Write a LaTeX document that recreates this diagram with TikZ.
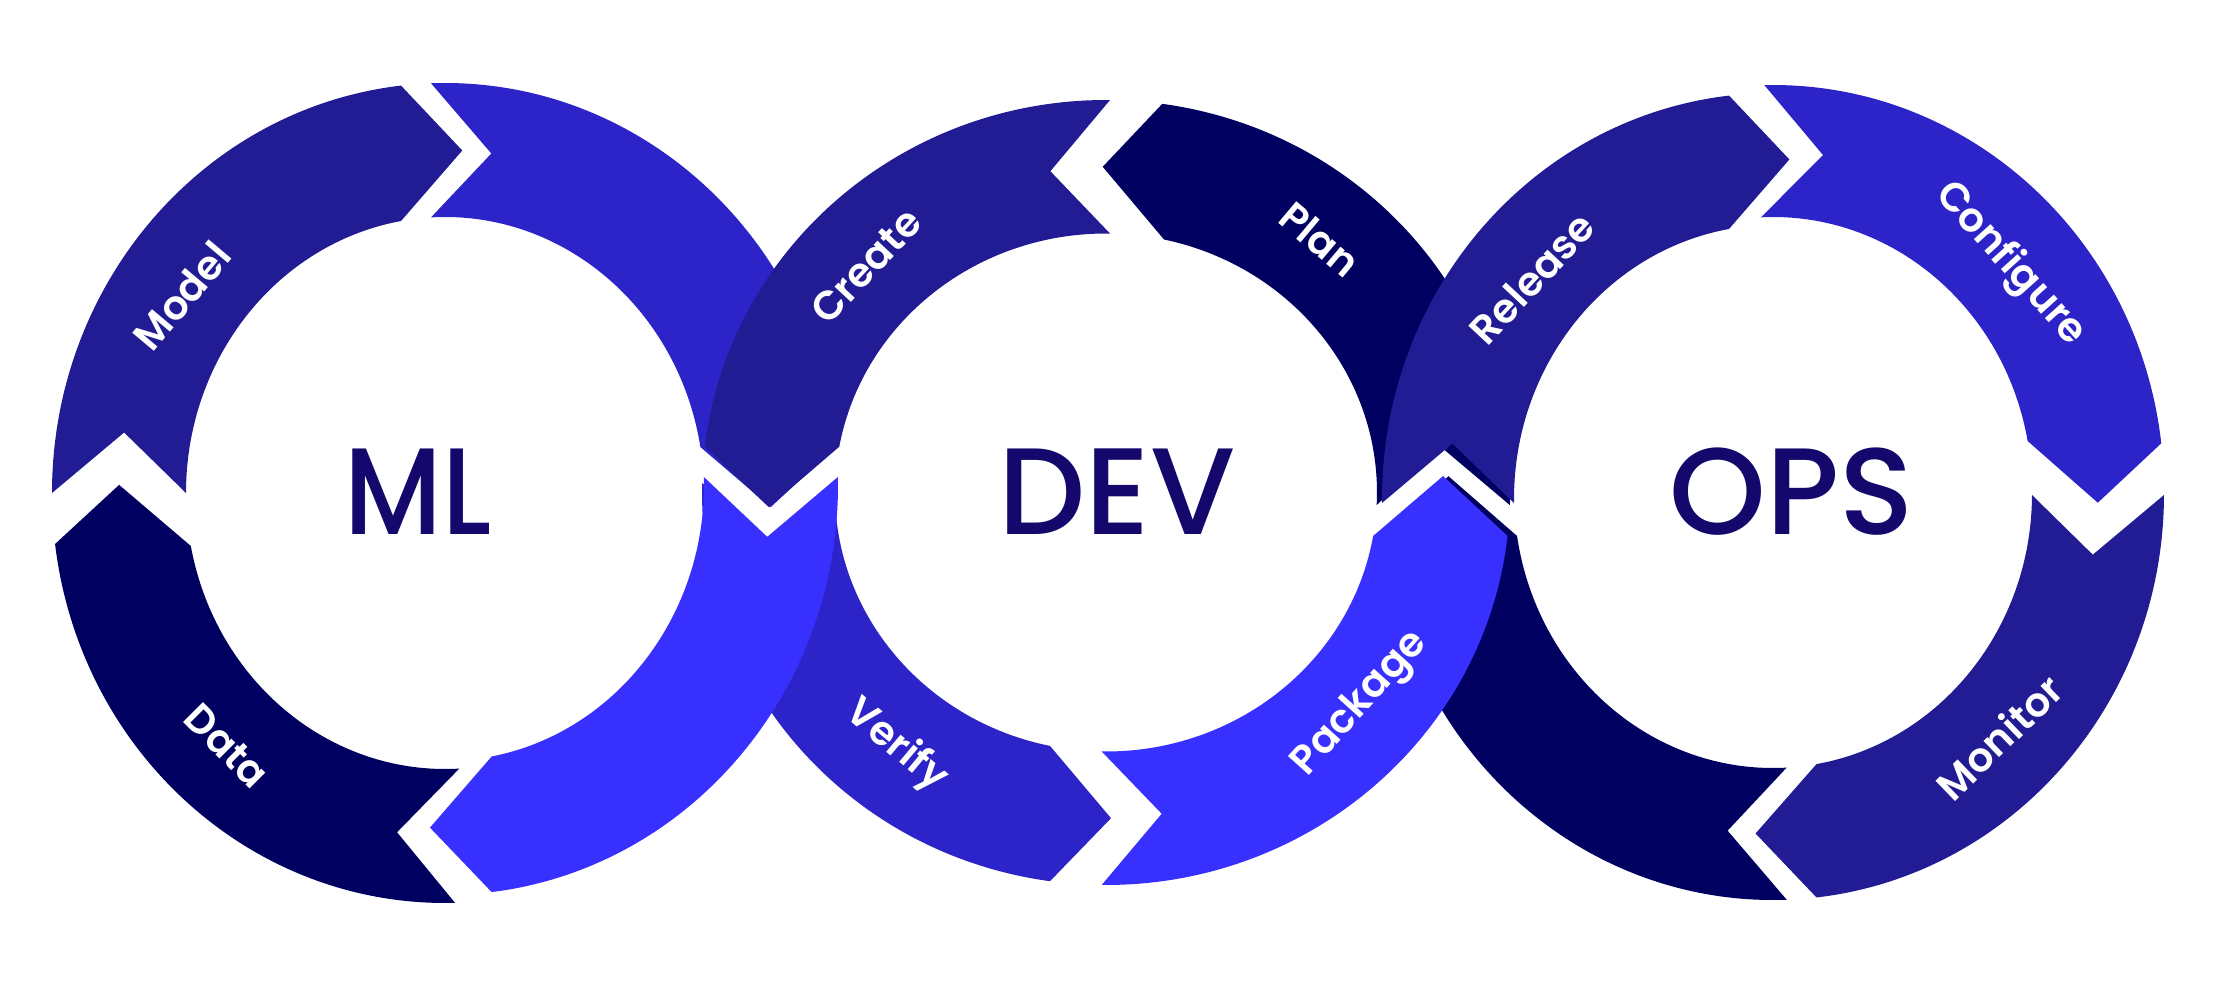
\documentclass[tikz,border=0pt]{standalone}
\usepackage{fontspec}
\IfFontExistsTF{Poppins Medium}{\setmainfont{Poppins Medium}}{\setmainfont{Poppins}}
\IfFontExistsTF{Poppins SemiBold}{\newfontfamily\labelfont{Poppins SemiBold}}{\newfontfamily\labelfont{Poppins}}
\definecolor{ringnavy}{HTML}{000060}
\definecolor{ringindigo}{HTML}{211C94}
\definecolor{ringblue}{HTML}{2C24C8}
\definecolor{ringbright}{HTML}{3830FF}
\definecolor{titlenavy}{HTML}{14086C}

% one arrow piece of a ring: outer start, outer end, head tip, inner end, inner start, notch tip
\newcommand{\ringseg}[7]{%
  \fill[#1] ({\rox*cos(#2)},{\roy*sin(#2)})
    arc[start angle=#2, end angle=#3, x radius=\rox, y radius=\roy]
    -- ({(\rox+\rix)/2*cos(#4)},{(\roy+\riy)/2*sin(#4)})
    -- ({\rix*cos(#5)},{\riy*sin(#5)})
    arc[start angle=#5, end angle=#6, x radius=\rix, y radius=\riy]
    -- ({(\rox+\rix)/2*cos(#7)},{(\roy+\riy)/2*sin(#7)}) -- cycle;}

\begin{document}
\begin{tikzpicture}[x=0.01cm, y=0.01cm,
  mlring/.style={shift={(445,491)}, /utils/exec={\def\rox{393}\def\roy{410}\def\rix{259}\def\riy{276}}},
  devring/.style={shift={(1106,491.5)}, /utils/exec={\def\rox{404}\def\roy{392.5}\def\rix{271}\def\riy{259}}},
  opsring/.style={shift={(1773,490)}, /utils/exec={\def\rox{391}\def\roy{406}\def\rix{259}\def\riy{274}}},
  seglabel/.style={text=white, font=\labelfont\fontsize{11.5}{13}\selectfont, inner sep=0pt},
  hub/.style={text=titlenavy, font=\fontsize{35}{40}\selectfont, anchor=base, inner sep=0pt}
]
  \useasboundingbox (0,0) rectangle (2220,984);

  % Pieces, back to front
  \ringseg{ringblue, devring}{178.61}{262.03}{270.85}{258.07}{177.90}{188.90}
  \ringseg{ringblue, mlring}{92.04}{6.44}{-2.37}{9.59}{93.10}{81.83}
  \ringseg{ringindigo, mlring}{180}{96.43}{86.96}{99.78}{180}{169.84}
  \ringseg{ringnavy, mlring}{-88.54}{-172.85}{-181.36}{-168.93}{-86.83}{-98.46}
  \ringseg{ringbright, mlring, shift={(0,8)}}{1.12}{-83.18}{-92.64}{-79.61}{1.66}{-8.70}
  \ringseg{ringindigo, devring}{89.43}{173.30}{182.59}{169.81}{89.15}{99.49}
  \ringseg{ringnavy, devring}{-1.83}{81.99}{90.56}{77.64}{-2.77}{8.17}
  \ringseg{ringnavy, opsring}{-87.99}{-174.06}{-183.0}{-171.18}{-86.97}{-98.03}
  \ringseg{ringbright, devring}{269.39}{353.64}{362.90}{350.33}{269.09}{279.50}
  \ringseg{ringindigo, opsring, shift={(0,-5)}}{180.56}{96.46}{87.11}{99.78}{180.84}{170.62}
  \ringseg{ringblue, opsring, shift={(0,3)}}{91.27}{6.75}{-1.98}{10.51}{92.66}{81.14}
  \ringseg{ringindigo, opsring}{-0.14}{-83.61}{-93.08}{-80.33}{-0.21}{-10.28}

  % Labels on the pieces
  \node[seglabel, rotate=50] (model) at (182,688) {Model};
  \node[seglabel, rotate=-45] (data) at (227,238) {Data};
  \node[seglabel, rotate=47] (create) at (866,718) {Create};
  \node[seglabel, rotate=-40] (plan) at (1320,745) {Plan};
  \node[seglabel, rotate=-40] (verify) at (896,238) {Verify};
  \node[seglabel, rotate=48] (package) at (1361,280) {Package};
  \node[seglabel, rotate=47] (release) at (1532,706) {Release};
  \node[seglabel, rotate=-48] (configure) at (2010,720) {Configure};
  \node[seglabel, rotate=44] (monitor) at (1999,247) {Monitor};

  % Ring titles
  \node[hub, xscale=0.9] (mltitle) at (418,449) {ML};
  \node[hub] (devtitle) at (1117,449) {DEV};
  \node[hub] (opstitle) at (1792,449) {OPS};
\end{tikzpicture}
\end{document}
